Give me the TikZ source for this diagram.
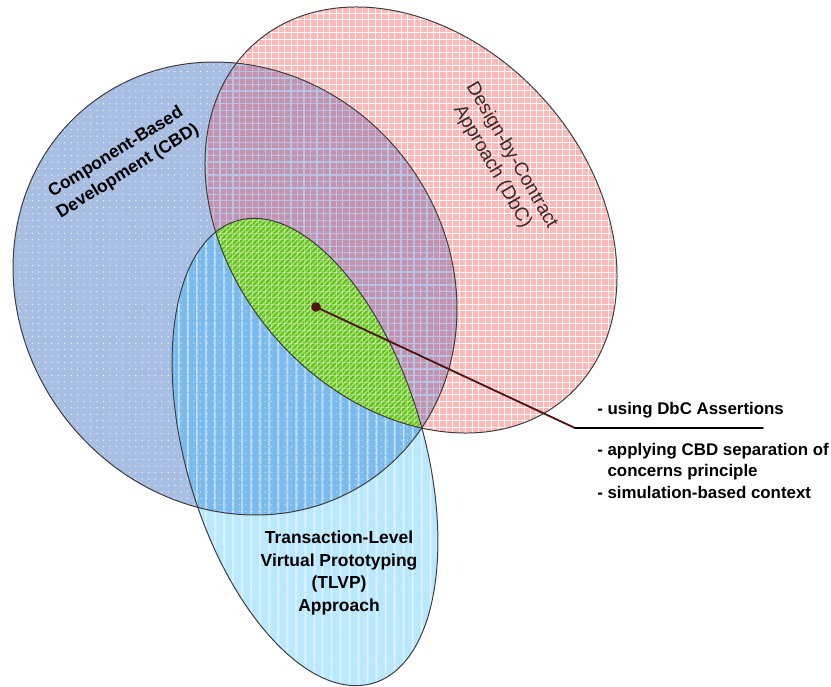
\documentclass[tikz,border=0pt]{standalone}
\usepackage{fontspec}
\setmainfont{Liberation Sans}
\usetikzlibrary{patterns.meta}
\definecolor{dbcpink}{RGB}{255,184,184}
\definecolor{cbdblue}{RGB}{168,190,226}
\definecolor{mixmauve}{RGB}{198,146,176}
\definecolor{mixline}{RGB}{176,200,232}
\definecolor{mixdot}{RGB}{228,178,205}
\definecolor{tlvpcyan}{RGB}{185,232,255}
\definecolor{deepblue}{RGB}{122,186,236}
\definecolor{deepdot}{RGB}{180,215,245}
\definecolor{coregreen}{RGB}{104,190,40}
\definecolor{corelight}{RGB}{170,238,110}
\definecolor{edgegray}{RGB}{60,60,60}
\definecolor{leadred}{RGB}{80,20,20}
\definecolor{dbcink}{RGB}{60,40,40}

\begin{document}
\begin{tikzpicture}[x=0.025cm,y=-0.025cm]
\tikzstyle{border}=[draw=edgegray,line width=0.7pt]
\tikzstyle{dbcrot}=[rotate around={-48.6:(411,220)}]
\tikzstyle{cbdrot}=[rotate around={-51.2:(235,288.5)}]
\tikzstyle{tlvprot}=[rotate around={-73.6:(305,452)}]
\tikzstyle{dbcgrid}=[pattern={Hatch[angle=0,distance=4.6pt,line width=0.6pt]},pattern color=white]
\tikzstyle{mixgrid}=[pattern={Hatch[angle=0,distance=4.6pt,line width=0.9pt]},pattern color=mixline]
\tikzstyle{cbddots}=[pattern={Dots[radius=0.45pt,distance=4.6pt]},pattern color=white]
\tikzstyle{mixdots}=[pattern={Dots[radius=0.6pt,distance=4.6pt]},pattern color=mixdot]
\tikzstyle{tlvplines}=[pattern={Lines[angle=90,distance=6.5pt,line width=0.7pt]},pattern color=white]
\tikzstyle{deepdots}=[pattern={Dots[radius=0.6pt,distance=4.6pt]},pattern color=deepdot]
\tikzstyle{corehatch}=[pattern={Lines[angle=45,distance=2.6pt,line width=0.8pt]},pattern color=corelight]
\tikzstyle{bigname}=[inner sep=0pt,align=center,font=\fontsize{12.4}{16}\selectfont\bfseries]
\tikzstyle{dbcname}=[inner sep=0pt,align=center,text=dbcink,font=\fontsize{13.6}{15.8}\selectfont]
\tikzstyle{notetext}=[inner sep=0pt,font=\fontsize{12}{15.3}\selectfont\bfseries]
\tikzstyle{hubdot}=[circle,fill=leadred,inner sep=0pt,minimum size=0.24cm]
\tikzstyle{leader}=[draw=leadred,line width=1.3pt,line cap=round]
\useasboundingbox (0,0) rectangle (831,686);
\path[dbcrot,fill=dbcpink,postaction={dbcgrid}] (411,220) ellipse [x radius=235.8,y radius=179.5];
\path[cbdrot,fill=cbdblue,postaction={cbddots}] (235,288.5) ellipse [x radius=234.5,y radius=213.5];
\begin{scope}
\clip[dbcrot] (411,220) ellipse [x radius=235.8,y radius=179.5];
\path[cbdrot,fill=mixmauve,postaction={mixgrid},postaction={mixdots}] (235,288.5) ellipse [x radius=234.5,y radius=213.5];
\end{scope}
\path[tlvprot,fill=tlvpcyan,postaction={tlvplines}] (305,452) ellipse [x radius=241,y radius=119];
\begin{scope}
\clip[cbdrot] (235,288.5) ellipse [x radius=234.5,y radius=213.5];
\path[tlvprot,fill=deepblue,postaction={deepdots},postaction={tlvplines}] (305,452) ellipse [x radius=241,y radius=119];
\end{scope}
\begin{scope}
\clip[dbcrot] (411,220) ellipse [x radius=235.8,y radius=179.5];
\path[tlvprot,fill=coregreen,postaction={corehatch},postaction={dbcgrid,opacity=0.35}] (305,452) ellipse [x radius=241,y radius=119];
\end{scope}
\draw[border,dbcrot] (411,220) ellipse [x radius=235.8,y radius=179.5];
\draw[border,cbdrot] (235,288.5) ellipse [x radius=234.5,y radius=213.5];
\draw[border,tlvprot] (305,452) ellipse [x radius=241,y radius=119];
\node[bigname,rotate=32] (cbd) at (122,162) {Component-Based\\Development (CBD)};
\node[dbcname,rotate=-60] (dbc) at (502,161) {Design-by-Contract\\Approach (DbC)};
\node[bigname] (tlvp) at (339,573) {Transaction-Level\\Virtual Prototyping\\(TLVP)\\Approach};
\node[hubdot] (hub) at (316,307) {};
\coordinate (bend) at (575,428);
\coordinate (tail) at (763,428);
\draw[leader] (hub.center) -- (bend);
\draw[leader,draw=black] (bend) -- (tail);
\node[notetext,anchor=base west] (dbcnote) at (597,414) {- using DbC Assertions};
\node[notetext,anchor=north west,align=left] (cbdnote) at (597,442.6) {- applying CBD separation of\\\hphantom{- }concerns principle\\- simulation-based context};
\end{tikzpicture}
\end{document}
